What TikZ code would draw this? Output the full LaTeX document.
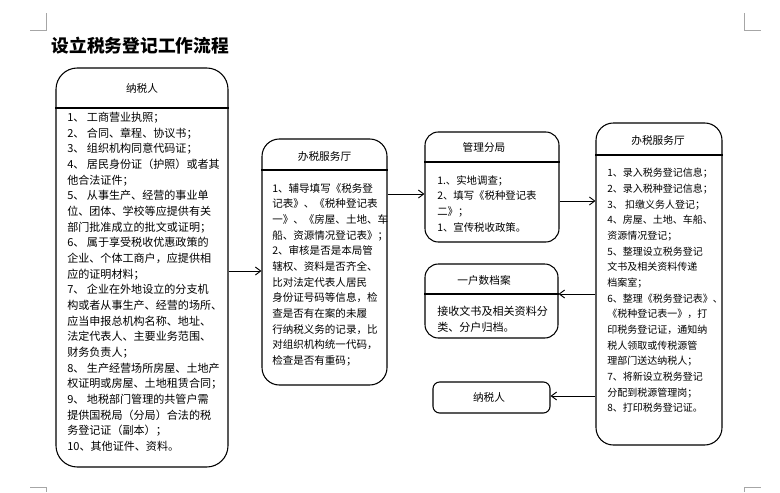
\documentclass[tikz,border=0pt]{standalone}
\usepackage{fontspec}
\setmainfont{Noto Sans CJK SC}
\usetikzlibrary{arrows.meta}

\tikzset{
  panel/.style={draw, line width=0.8pt, inner sep=0pt},
  head/.style={font=\fontsize{8pt}{10pt}\selectfont},
  body/.style={anchor=north west, align=left, inner sep=0pt, font=\fontsize{#1}{11.75pt}\selectfont},
  body/.default=8.3pt,
  flow/.style={-{Straight Barb[length=4pt,width=6pt]}, line width=0.7pt},
  crop/.style={gray!70, line width=0.6pt}
}

\begin{document}
\begin{tikzpicture}[x=0.75pt,y=-0.75pt]
\useasboundingbox (0,0) rectangle (780,492);
\draw[crop] (30,30) -- (46,30) -- (46,13);
\draw[crop] (744,13) -- (744,30) -- (761,30);
\draw[crop] (30,487) -- (46,487) -- (46,492);
\draw[crop] (744,492) -- (744,487) -- (761,487);
\node[anchor=west, font=\fontsize{13.3pt}{16pt}\selectfont\bfseries] (title) at (47,46) {设立税务登记工作流程};

\node[panel, rounded corners=16pt, minimum width=129pt, minimum height=299.25pt] (nsr) at (142,267.5) {};
\draw[line width=0.8pt] (nsr.west |- 0,108) -- (nsr.east |- 0,108);
\node[head] (nsrt) at (142,88) {纳税人};
\node[body] (nsrb) at (67,112) {1、 工商营业执照；\\2、 合同、章程、协议书；\\3、 组织机构同意代码证；\\4、 居民身份证（护照）或者其\\他合法证件；\\5、 从事生产、经营的事业单\\位、团体、学校等应提供有关\\部门批准成立的批文或证明；\\6、 属于享受税收优惠政策的\\企业、个体工商户，应提供相\\应的证明材料；\\7、 企业在外地设立的分支机\\构或者从事生产、经营的场所、\\应当申报总机构名称、地址、\\法定代表人、主要业务范围、\\财务负责人；\\8、 生产经营场所房屋、土地产\\权证明或房屋、土地租赁合同；\\9、 地税部门管理的共管户需\\提供国税局（分局）合法的税\\务登记证（副本）；\\10、其他证件、资料。};

\node[panel, rounded corners=13pt, minimum width=93.75pt, minimum height=184.5pt] (bsf) at (324.5,262) {};
\draw[line width=0.8pt] (bsf.west |- 0,170) -- (bsf.east |- 0,170);
\node[head] (bsft) at (324.5,156) {办税服务厅};
\node[body=7.9pt] (bsfb) at (272,183) {1、辅导填写《税务登\\记表》、《税种登记表\\一》、《房屋、土地、车\\船、资源情况登记表》；\\2、审核是否是本局管\\辖权、资料是否齐全、\\比对法定代表人居民\\身份证号码等信息，检\\查是否有在案的未履\\行纳税义务的记录，比\\对组织机构统一代码，\\检查是否有重码；};

\node[panel, rounded corners=10pt, minimum width=100.5pt, minimum height=82.5pt] (glfj) at (492,187) {};
\draw[line width=0.8pt] (glfj.west |- 0,162) -- (glfj.east |- 0,162);
\node[head] (glfjt) at (484,147) {管理分局};
\node[body=7.8pt] (glfjb) at (437,175) {1.、实地调查；\\2、填写《税种登记表\\二》；\\1、宣传税收政策。};

\node[panel, rounded corners=10pt, minimum width=99.75pt, minimum height=55.5pt] (hda) at (491.5,301) {};
\draw[line width=0.8pt] (hda.west |- 0,294) -- (hda.east |- 0,294);
\node[head] (hdat) at (484,280) {一户数档案};
\node[body=8.3pt] (hdab) at (437,306) {接收文书及相关资料分\\类、分户归档。};

\node[panel, rounded corners=5pt, minimum width=87.75pt, minimum height=23.25pt] (nsr2) at (491.5,397.5) {};
\node[head] (nsr2t) at (489,397) {纳税人};

\node[panel, rounded corners=13pt, minimum width=94.5pt, minimum height=241.5pt] (bst) at (659,284) {};
\draw[line width=0.8pt] (bst.west |- 0,155) -- (bst.east |- 0,155);
\node[head] (bstt) at (658,140) {办税服务厅};
\node[body=7.5pt] (bstb) at (607,168) {1、录入税务登记信息；\\2、录入税种登记信息；\\3、 扣缴义务人登记；\\4、房屋、土地、车船、\\资源情况登记；\\5、整理设立税务登记\\文书及相关资料传递\\档案室；\\6、整理《税务登记表》、\\《税种登记表一》，打\\印税务登记证，通知纳\\税人领取或传税源管\\理部门送达纳税人；\\7、将新设立税务登记\\分配到税源管理岗；\\8、打印税务登记证。};

\draw[flow] (nsr.east |- 0,271) -- (bsf.west |- 0,271);
\draw[flow] (bsf.east |- 0,194) -- (glfj.west |- 0,194);
\draw[flow] (glfj.east |- 0,201) -- (bst.west |- 0,201);
\draw[flow] (bst.west |- 0,294) -- (hda.east |- 0,294);
\draw[flow] (bst.west |- 0,396) -- (nsr2.east |- 0,396);
\end{tikzpicture}
\end{document}
